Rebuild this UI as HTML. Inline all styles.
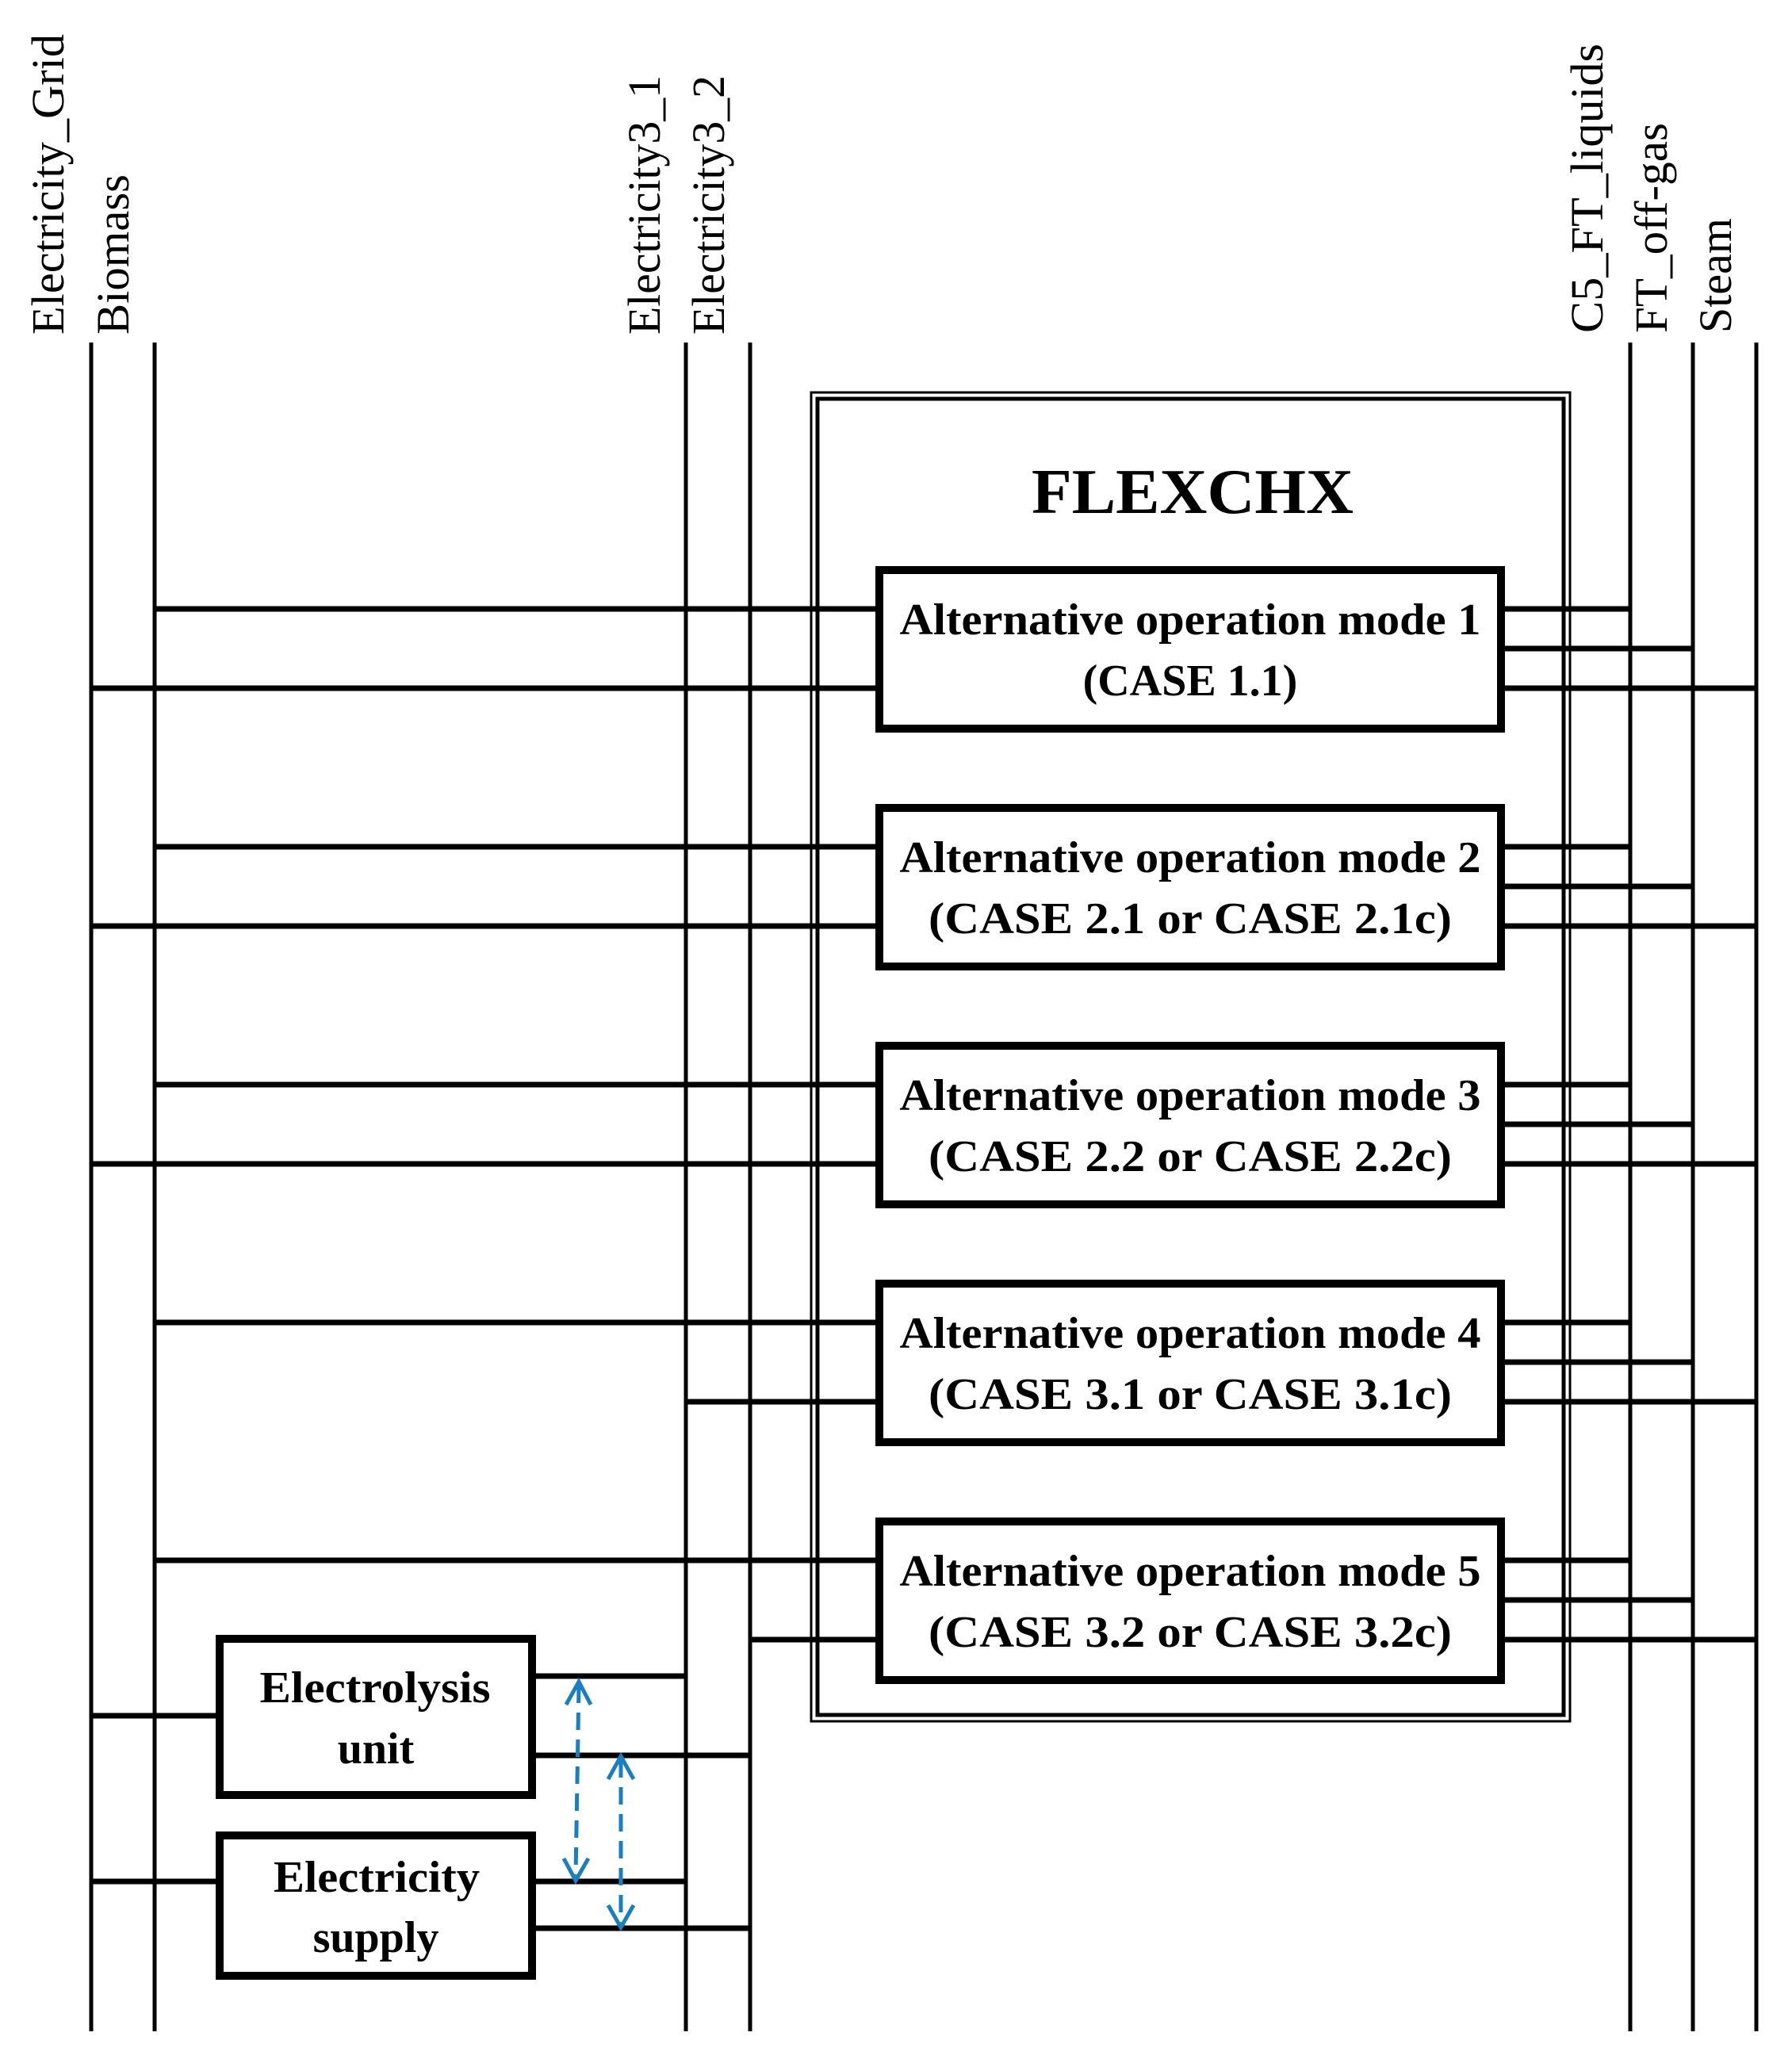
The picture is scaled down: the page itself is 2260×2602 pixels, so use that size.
<!DOCTYPE html>
<html><head><meta charset="utf-8"><style>html,body{margin:0;padding:0;background:#fff}svg{display:block}</style></head>
<body>
<svg width="2260" height="2602" viewBox="0 0 2260 2602" xmlns="http://www.w3.org/2000/svg">
<g font-family="Liberation Serif, serif" font-size="58" fill="#000">
<text transform="translate(80,422) rotate(-90)" textLength="379" lengthAdjust="spacingAndGlyphs">Electricity_Grid</text>
<text transform="translate(162,422) rotate(-90)" textLength="202" lengthAdjust="spacingAndGlyphs">Biomass</text>
<text transform="translate(832,422) rotate(-90)" textLength="327" lengthAdjust="spacingAndGlyphs">Electricity3_1</text>
<text transform="translate(913,422) rotate(-90)" textLength="327" lengthAdjust="spacingAndGlyphs">Electricity3_2</text>
<text transform="translate(2021,420) rotate(-90)" textLength="365" lengthAdjust="spacingAndGlyphs">C5_FT_liquids</text>
<text transform="translate(2102,420) rotate(-90)" textLength="265" lengthAdjust="spacingAndGlyphs">FT_off-gas</text>
<text transform="translate(2183,420) rotate(-90)" textLength="145" lengthAdjust="spacingAndGlyphs">Steam</text>
</g>
<g stroke="#000" stroke-width="5">
<line x1="115" y1="432" x2="115" y2="2562"/>
<line x1="195" y1="432" x2="195" y2="2562"/>
<line x1="865" y1="432" x2="865" y2="2562"/>
<line x1="946" y1="432" x2="946" y2="2562"/>
<line x1="2056" y1="432" x2="2056" y2="2562"/>
<line x1="2135" y1="432" x2="2135" y2="2562"/>
<line x1="2215" y1="432" x2="2215" y2="2562"/>
</g>
<rect x="1023" y="495" width="957" height="1676" fill="none" stroke="#000" stroke-width="3"/>
<rect x="1031" y="503" width="941" height="1660" fill="none" stroke="#000" stroke-width="5"/>
<text x="1504" y="647" text-anchor="middle" font-family="Liberation Serif, serif" font-weight="bold" font-size="80" textLength="406" lengthAdjust="spacingAndGlyphs">FLEXCHX</text>
<g stroke="#000" stroke-width="7">
<!-- mode rows -->
<line x1="195" y1="768" x2="1104" y2="768"/><line x1="115" y1="868" x2="1104" y2="868"/>
<line x1="1898" y1="768" x2="2056" y2="768"/><line x1="1898" y1="818" x2="2135" y2="818"/><line x1="1898" y1="868" x2="2215" y2="868"/>
<line x1="195" y1="1068" x2="1104" y2="1068"/><line x1="115" y1="1168" x2="1104" y2="1168"/>
<line x1="1898" y1="1068" x2="2056" y2="1068"/><line x1="1898" y1="1118" x2="2135" y2="1118"/><line x1="1898" y1="1168" x2="2215" y2="1168"/>
<line x1="195" y1="1368" x2="1104" y2="1368"/><line x1="115" y1="1468" x2="1104" y2="1468"/>
<line x1="1898" y1="1368" x2="2056" y2="1368"/><line x1="1898" y1="1418" x2="2135" y2="1418"/><line x1="1898" y1="1468" x2="2215" y2="1468"/>
<line x1="195" y1="1668" x2="1104" y2="1668"/><line x1="865" y1="1768" x2="1104" y2="1768"/>
<line x1="1898" y1="1668" x2="2056" y2="1668"/><line x1="1898" y1="1718" x2="2135" y2="1718"/><line x1="1898" y1="1768" x2="2215" y2="1768"/>
<line x1="195" y1="1968" x2="1104" y2="1968"/><line x1="946" y1="2068" x2="1104" y2="2068"/>
<line x1="1898" y1="1968" x2="2056" y2="1968"/><line x1="1898" y1="2018" x2="2135" y2="2018"/><line x1="1898" y1="2068" x2="2215" y2="2068"/>
<!-- bottom -->
<line x1="115" y1="2164" x2="272" y2="2164"/>
<line x1="676" y1="2114" x2="865" y2="2114"/>
<line x1="676" y1="2214" x2="946" y2="2214"/>
<line x1="115" y1="2373" x2="272" y2="2373"/>
<line x1="676" y1="2373" x2="865" y2="2373"/>
<line x1="676" y1="2432" x2="946" y2="2432"/>
</g>
<g fill="#fff" stroke="#000" stroke-width="10">
<rect x="1109" y="719" width="784" height="200"/>
<rect x="1109" y="1019" width="784" height="200"/>
<rect x="1109" y="1319" width="784" height="200"/>
<rect x="1109" y="1619" width="784" height="200"/>
<rect x="1109" y="1919" width="784" height="200"/>
<rect x="277" y="2067" width="394" height="197"/>
<rect x="277" y="2315" width="394" height="177"/>
</g>
<g font-family="Liberation Serif, serif" font-weight="bold" font-size="56" text-anchor="middle">
<text x="1501" y="800" textLength="733" lengthAdjust="spacingAndGlyphs">Alternative operation mode 1</text>
<text x="1501" y="877">(CASE 1.1)</text>
<text x="1501" y="1100" textLength="733" lengthAdjust="spacingAndGlyphs">Alternative operation mode 2</text>
<text x="1501" y="1177" textLength="660" lengthAdjust="spacingAndGlyphs">(CASE 2.1 or CASE 2.1c)</text>
<text x="1501" y="1400" textLength="733" lengthAdjust="spacingAndGlyphs">Alternative operation mode 3</text>
<text x="1501" y="1477" textLength="660" lengthAdjust="spacingAndGlyphs">(CASE 2.2 or CASE 2.2c)</text>
<text x="1501" y="1700" textLength="733" lengthAdjust="spacingAndGlyphs">Alternative operation mode 4</text>
<text x="1501" y="1777" textLength="660" lengthAdjust="spacingAndGlyphs">(CASE 3.1 or CASE 3.1c)</text>
<text x="1501" y="2000" textLength="733" lengthAdjust="spacingAndGlyphs">Alternative operation mode 5</text>
<text x="1501" y="2077" textLength="660" lengthAdjust="spacingAndGlyphs">(CASE 3.2 or CASE 3.2c)</text>
<text x="473" y="2147" textLength="291" lengthAdjust="spacingAndGlyphs">Electrolysis</text>
<text x="474" y="2224">unit</text>
<text x="475" y="2386" textLength="260" lengthAdjust="spacingAndGlyphs">Electricity</text>
<text x="474" y="2462">supply</text>
</g>
<g stroke="#1a7fc1" stroke-width="5" fill="none">
<line x1="730" y1="2126" x2="726" y2="2366" stroke-dasharray="22,12"/>
<polyline points="714,2150 730,2121 745,2150"/>
<polyline points="711,2344 726,2372 742,2344"/>
<line x1="783" y1="2220" x2="783" y2="2425" stroke-dasharray="22,12"/>
<polyline points="767,2244 783,2215 799,2244"/>
<polyline points="767,2403 783,2431 799,2403"/>
</g>
</svg>
</body></html>
